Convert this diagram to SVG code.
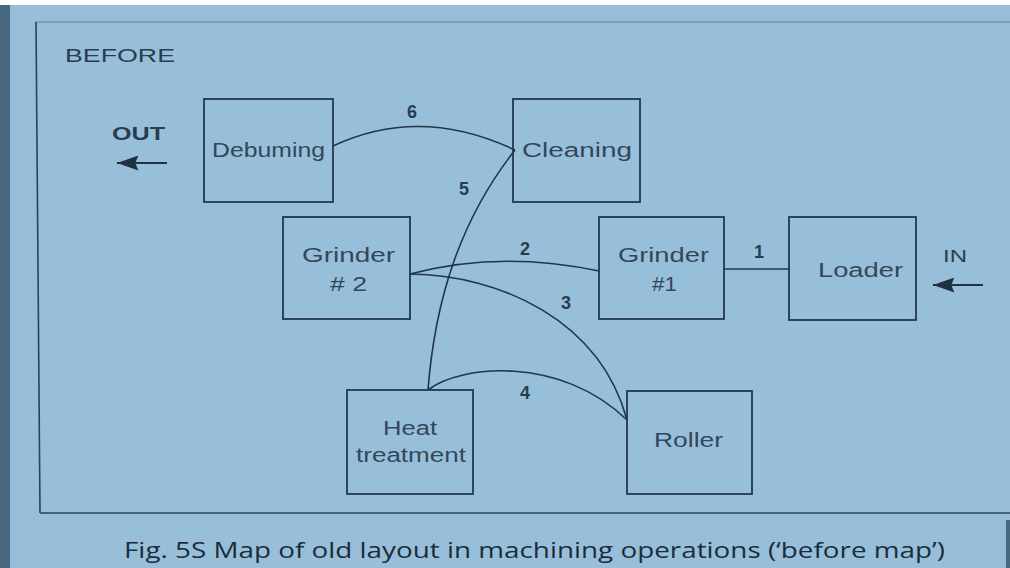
<svg xmlns="http://www.w3.org/2000/svg" width="1010" height="568" viewBox="0 0 1010 568">
<style>
.box{fill:none;stroke:#24384a;stroke-width:1.8}
.lbl{font-family:"Liberation Sans",Arial,sans-serif;font-size:20px;fill:#33475a}
.num{font-family:"Liberation Sans",Arial,sans-serif;font-size:18px;font-weight:bold;fill:#2a3d50}
.con{fill:none;stroke:#22364a;stroke-width:1.6}
.frame{fill:none;stroke:#2c4256;stroke-width:1.6}
</style>
<defs>
<marker id="ah" viewBox="0 0 20 14" refX="20" refY="7" markerWidth="22" markerHeight="15" markerUnits="userSpaceOnUse" orient="auto">
<path d="M20,7 L0,0 L3,7 L0,14 Z" fill="#1f3244"/>
</marker>
</defs>
<rect x="0" y="0" width="1010" height="568" fill="#98bfd9"/>
<rect x="0" y="0" width="1010" height="5" fill="#ffffff"/>
<rect x="0" y="5" width="10" height="563" fill="#46677d"/>
<rect x="1006" y="520" width="4" height="48" fill="#46677d"/>
<g id="frame">
<line class="frame" x1="36" y1="22" x2="1010" y2="22" stroke-opacity="0.35"/>
<line class="frame" x1="36" y1="22" x2="40" y2="513"/>
<line class="frame" x1="40" y1="513" x2="1010" y2="513"/>
<text x="65" y="62" font-family="Liberation Sans,Arial,sans-serif" font-size="19" fill="#2a3d50" textLength="110" lengthAdjust="spacingAndGlyphs">BEFORE</text>
</g>
<g id="connectors">
<path class="con" d="M333,146 Q420,105 515,150"/>
<path class="con" d="M428,390 C435,300 460,220 515,150"/>
<path class="con" d="M410,274 Q500,250 599,271"/>
<path class="con" d="M410,274 C500,275 600,320 627,420"/>
<path class="con" d="M428,390 C460,365 560,355 627,420"/>
<line class="con" x1="724" y1="269" x2="789" y2="269"/>
<text class="num" x="412" y="118" text-anchor="middle">6</text>
<text class="num" x="464" y="195" text-anchor="middle">5</text>
<text class="num" x="525" y="255" text-anchor="middle">2</text>
<text class="num" x="759" y="258" text-anchor="middle">1</text>
<text class="num" x="566" y="309" text-anchor="middle">3</text>
<text class="num" x="525" y="399" text-anchor="middle">4</text>
</g>
<g id="out">
<text x="112" y="140" font-family="Liberation Sans,Arial,sans-serif" font-size="18" font-weight="bold" fill="#2a3d50" textLength="53" lengthAdjust="spacingAndGlyphs">OUT</text>
<line x1="167" y1="163" x2="117" y2="163" stroke="#1f3244" stroke-width="2" marker-end="url(#ah)"/>
</g>
<g id="in">
<text x="943" y="262" font-family="Liberation Sans,Arial,sans-serif" font-size="17" fill="#2a3d50" textLength="24" lengthAdjust="spacingAndGlyphs">IN</text>
<line x1="983" y1="285" x2="933" y2="285" stroke="#1f3244" stroke-width="2" marker-end="url(#ah)"/>
</g>
<g id="debuming">
<rect class="box" x="204" y="99" width="129" height="103"/>
<text class="lbl" x="212" y="157" textLength="113" lengthAdjust="spacingAndGlyphs">Debuming</text>
</g>
<g id="cleaning">
<rect class="box" x="513" y="99" width="127" height="103"/>
<text class="lbl" x="522" y="157" textLength="110" lengthAdjust="spacingAndGlyphs">Cleaning</text>
</g>
<g id="grinder2">
<rect class="box" x="283" y="217" width="127" height="102"/>
<text class="lbl" x="302" y="262" textLength="93" lengthAdjust="spacingAndGlyphs">Grinder</text>
<text class="lbl" x="330" y="291" textLength="37" lengthAdjust="spacingAndGlyphs"># 2</text>
</g>
<g id="grinder1">
<rect class="box" x="599" y="217" width="125" height="102"/>
<text class="lbl" x="618" y="262" textLength="91" lengthAdjust="spacingAndGlyphs">Grinder</text>
<text class="lbl" x="652" y="291" textLength="25" lengthAdjust="spacingAndGlyphs">#1</text>
</g>
<g id="loader">
<rect class="box" x="789" y="217" width="127" height="103"/>
<text class="lbl" x="818" y="277" textLength="85" lengthAdjust="spacingAndGlyphs">Loader</text>
</g>
<g id="heat">
<rect class="box" x="347" y="390" width="126" height="104"/>
<text class="lbl" x="383" y="435" textLength="54" lengthAdjust="spacingAndGlyphs">Heat</text>
<text class="lbl" x="356" y="462" textLength="110" lengthAdjust="spacingAndGlyphs">treatment</text>
</g>
<g id="roller">
<rect class="box" x="627" y="391" width="125" height="103"/>
<text class="lbl" x="654" y="447" textLength="69" lengthAdjust="spacingAndGlyphs">Roller</text>
</g>
<text x="124" y="558" font-family="Open Sans,Liberation Sans,sans-serif" font-size="22" fill="#1c2c3c" textLength="821" lengthAdjust="spacingAndGlyphs">Fig. 5S Map of old layout in machining operations (‘before map’)</text>
</svg>
